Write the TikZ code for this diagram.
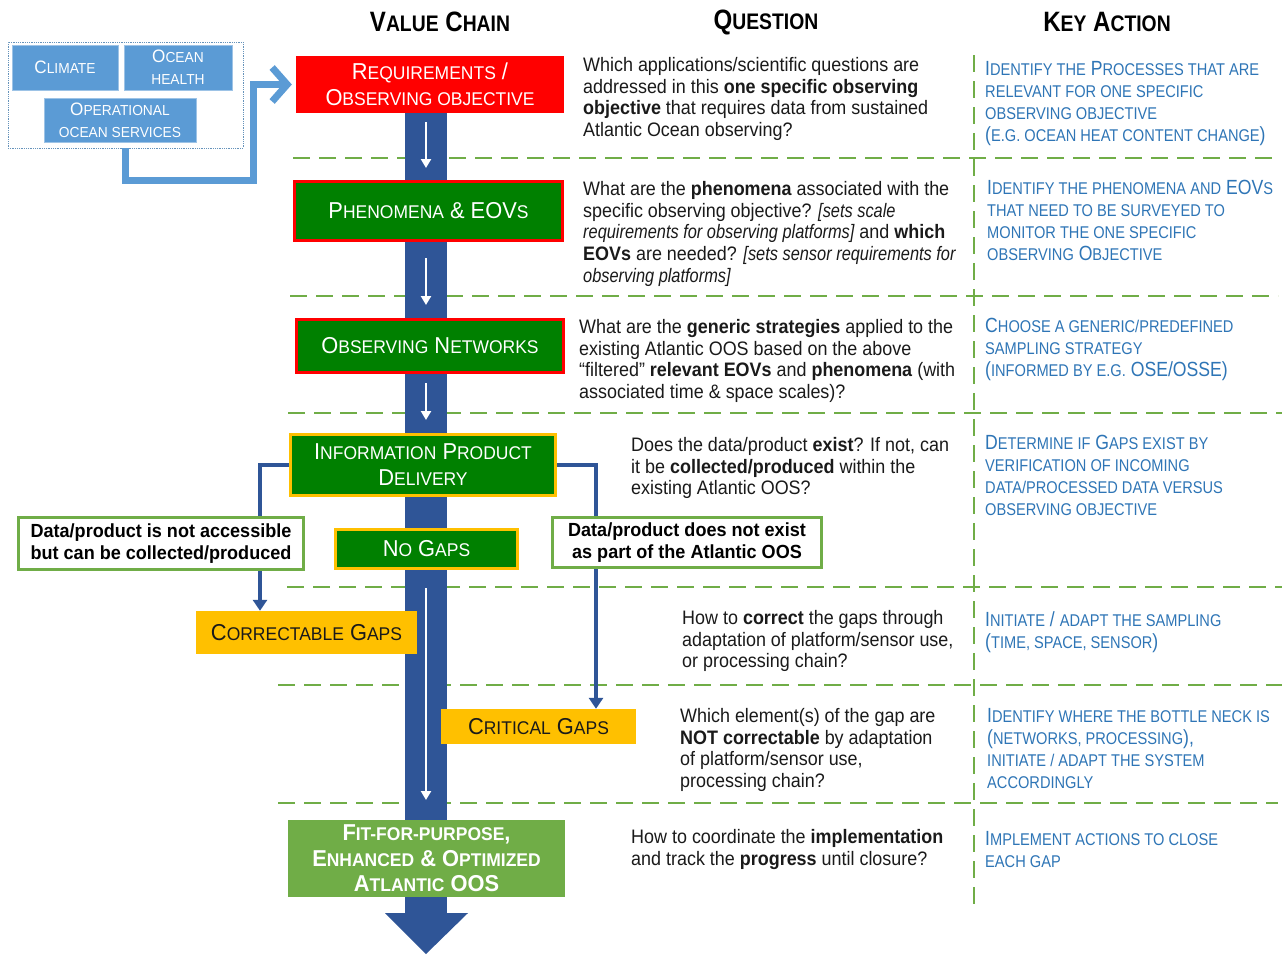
\documentclass[tikz,border=0pt]{standalone}
\usepackage{fontspec}
\setmainfont{Liberation Sans}[FakeStretch=0.86]
\newfontfamily\boxfam{Liberation Sans}[FakeStretch=0.95]
\newfontfamily\qfam{Liberation Sans}[FakeStretch=0.92]
\newfontfamily\qitfam{Liberation Sans Italic}[FakeStretch=0.84]
\usetikzlibrary{arrows.meta}
\definecolor{barblue}{HTML}{2F5597}
\definecolor{lblue}{HTML}{5B9BD5}
\definecolor{lblueedge}{HTML}{9DC3E6}
\definecolor{kblue}{HTML}{2E75B6}
\definecolor{lgreen}{HTML}{70AD47}
\definecolor{dgreen}{HTML}{008000}
\definecolor{gold}{HTML}{FFC000}
\definecolor{qtext}{HTML}{1A1A1A}
\newcommand\SC[1]{{\fontsize{\scs}{\the\baselineskip}\selectfont\MakeUppercase{#1}}}
\newcommand\QI[1]{{\qitfam #1}}
\def\scs{16}
\tikzset{
  fs/.style n args={3}{font=\fontsize{#1}{#3}\selectfont\def\scs{#2}},
  fsb/.style n args={3}{font=\fontsize{#1}{#3}\selectfont\bfseries\def\scs{#2}},
  bfs/.style n args={3}{font=\boxfam\fontsize{#1}{#3}\selectfont\def\scs{#2}},
  bfsb/.style n args={3}{font=\boxfam\fontsize{#1}{#3}\selectfont\bfseries\def\scs{#2}},
  vc/.style={draw, line width=3pt, inner sep=0pt, align=center, text=white, fill=dgreen},
  flat/.style={draw=none, inner sep=0pt, align=center},
  gbox/.style={draw=lgreen, line width=3pt, fill=white, inner sep=0pt, align=center, text=black},
  bluebox/.style={fill=lblue, draw=lblueedge, line width=0.8pt, inner sep=0pt, align=center, text=white},
  dashg/.style={draw=lgreen, line width=2.5pt, dash pattern=on 17pt off 9pt},
  conn/.style={draw=barblue, line width=4pt},
  tipb/.style={-{Triangle[length=11pt,width=14pt]}},
  warrow/.style={draw=white, line width=2.5pt, -{Triangle[length=9pt,width=10pt]}},
  qtxt/.style={anchor=north west, inner sep=0pt, align=left, text=qtext, font=\qfam\fontsize{19.5}{21.8}\selectfont},
  ktxt/.style={anchor=north west, inner sep=0pt, align=left, text=kblue, fs={20.5}{17}{22}},
  head/.style={inner sep=0pt, text=black, fsb={28}{22.5}{30}},
}
\begin{document}
\begin{tikzpicture}[x=1pt,y=-1pt]
\useasboundingbox (0,0) rectangle (1284,954);
\fill[white] (0,0) rectangle (1284,954);

% headers
\node[head] (h1) at (440,22) {V\SC{alue} C\SC{hain}};
\node[head] (h2) at (766,22) {Q\SC{uestion}};
\node[head] (h3) at (1107,22) {K\SC{ey} A\SC{ction}};

% dashed separators
\draw[dashg] (293,158) -- (1275,158);
\draw[dashg] (290,296) -- (1278,296);
\draw[dashg] (288,413) -- (1282,413);
\draw[dashg] (287,587) -- (1282,587);
\draw[dashg] (278,685) -- (1282,685);
\draw[dashg] (278,803) -- (1278,803);
\draw[dashg] (974,55) -- (974,910);

% main blue bar with arrowhead
\fill[barblue] (405,113) rectangle (447,915);
\fill[barblue] (385,913) -- (468,913) -- (426,954) -- cycle;
\draw[warrow] (426,122) -- (426,168);
\draw[warrow] (426,258) -- (426,305);
\draw[warrow] (426,383) -- (426,420);
\draw[warrow] (426,588) -- (426,800);

% top-left drivers
\node[draw=lblue!70!gray, densely dotted, line width=0.8pt, minimum width=235pt, minimum height=106pt, inner sep=0pt] (frame) at (125.5,95) {};
\node[bluebox, minimum width=106pt, minimum height=45pt, bfs={18}{14.5}{22}] (climate) at (65,67.5) {C\SC{limate}};
\node[bluebox, minimum width=108pt, minimum height=45pt, bfs={18}{14.5}{22}] (ocean) at (178,67.5) {O\SC{cean}\\\SC{health}};
\node[bluebox, minimum width=152pt, minimum height=44pt, bfs={18}{14.5}{22}] (oper) at (120,120) {O\SC{perational}\\\SC{ocean services}};

% value chain boxes
\node[flat, fill=red, text=white, minimum width=268pt, minimum height=57pt, bfs={23}{18.4}{26}] (req) at (430,84.5) {R\SC{equirements} /\\O\SC{bserving objective}};
\node[vc, draw=red, minimum width=268pt, minimum height=59pt, bfs={23}{18.4}{26}] (phen) at (428.5,211) {P\SC{henomena} \& EOV\SC{s}};
\node[vc, draw=red, minimum width=267pt, minimum height=53pt, bfs={23}{18.4}{26}] (obs) at (430,346) {O\SC{bserving} N\SC{etworks}};
\node[vc, draw=gold, minimum width=265pt, minimum height=61pt, bfs={23}{18.4}{26}] (info) at (423,465) {I\SC{nformation} P\SC{roduct}\\D\SC{elivery}};
\node[vc, draw=gold, minimum width=182pt, minimum height=39pt, bfs={23}{18.4}{26}] (nogaps) at (426.5,549) {N\SC{o} G\SC{aps}};
\node[gbox, minimum width=285pt, minimum height=52pt, bfsb={19}{15}{22}] (leftbox) at (161,543.5) {Data/product is not accessible\\but can be collected/produced};
\node[gbox, minimum width=269pt, minimum height=50pt, bfsb={19}{15}{22}] (rightbox) at (687,542.5) {Data/product does not exist\\as part of the Atlantic OOS};
\node[flat, fill=gold, text=qtext, minimum width=221pt, minimum height=43pt, bfs={23}{18.4}{26}] (correct) at (306.5,632.5) {C\SC{orrectable} G\SC{aps}};
\node[flat, fill=gold, text=qtext, minimum width=195pt, minimum height=35pt, bfs={23}{18.4}{26}] (critical) at (538.5,726.5) {C\SC{ritical} G\SC{aps}};
\node[flat, fill=lgreen, text=white, minimum width=277pt, minimum height=77pt, bfsb={23}{18.4}{25.5}] (fit) at (426.5,858.5) {F\SC{it-for-purpose},\\E\SC{nhanced} \& O\SC{ptimized}\\A\SC{tlantic} OOS};

% drivers arrow
\draw[draw=lblue, line width=7pt, -{Straight Barb[length=15pt,width=34pt]}, shorten >=4pt] (frame.south) -- ++(0,32) -- ++(128,0) |- (req.west);

% branch connectors
\coordinate (lt) at ([xshift=-45pt]leftbox.north east);
\coordinate (lb) at ([xshift=-45pt]leftbox.south east);
\coordinate (rt) at ([xshift=45pt]rightbox.north west);
\coordinate (rb) at ([xshift=45pt]rightbox.south west);
\draw[conn] (info.west) -| (lt);
\draw[conn, tipb] (lb) -- (lb |- correct.north);
\draw[conn] (info.east) -| (rt);
\draw[conn, tipb] (rb) -- (rb |- critical.north);

% questions
\node[qtxt] (q1) at (583,57) {Which applications/scientific questions are\\addressed in this \textbf{one specific observing}\\\textbf{objective} that requires data from sustained\\Atlantic Ocean observing?};
\node[qtxt] (q2) at (583,181) {What are the \textbf{phenomena} associated with the\\specific observing objective? \QI{[sets scale}\\\QI{requirements for observing platforms]} and \textbf{which}\\\textbf{EOVs} are needed? \QI{[sets sensor requirements for}\\\QI{observing platforms]}};
\node[qtxt] (q3) at (579,319) {What are the \textbf{generic strategies} applied to the\\existing Atlantic OOS based on the above\\“filtered” \textbf{relevant EOVs} and \textbf{phenomena} (with\\associated time \& space scales)?};
\node[qtxt] (q4) at (631,437) {Does the data/product \textbf{exist}? If not, can\\it be \textbf{collected/produced} within the\\existing Atlantic OOS?};
\node[qtxt] (q5) at (682,610) {How to \textbf{correct} the gaps through\\adaptation of platform/sensor use,\\or processing chain?};
\node[qtxt] (q6) at (680,708) {Which element(s) of the gap are\\\textbf{NOT correctable} by adaptation\\of platform/sensor use,\\processing chain?};
\node[qtxt] (q7) at (631,829) {How to coordinate the \textbf{implementation}\\and track the \textbf{progress} until closure?};

% key actions
\node[ktxt] (k1) at (985,61) {I\SC{dentify the} P\SC{rocesses that are}\\\SC{relevant for one specific}\\\SC{observing objective}\\(\SC{e.g. ocean heat content change})};
\node[ktxt] (k2) at (987,180) {I\SC{dentify the phenomena and} EOV\SC{s}\\\SC{that need to be surveyed to}\\\SC{monitor the one specific}\\\SC{observing} O\SC{bjective}};
\node[ktxt] (k3) at (985,318) {C\SC{hoose a generic/predefined}\\\SC{sampling strategy}\\(\SC{informed by e.g.} OSE/OSSE)};
\node[ktxt] (k4) at (985,435) {D\SC{etermine if} G\SC{aps exist by}\\\SC{verification of incoming}\\\SC{data/processed data versus}\\\SC{observing objective}};
\node[ktxt] (k5) at (985,611) {I\SC{nitiate} / \SC{adapt the sampling}\\(\SC{time, space, sensor})};
\node[ktxt] (k6) at (987,708) {I\SC{dentify where the bottle neck is}\\(\SC{networks, processing}),\\\SC{initiate / adapt the system}\\\SC{accordingly}};
\node[ktxt] (k7) at (985,831) {I\SC{mplement actions to close}\\\SC{each gap}};
\end{tikzpicture}
\end{document}
